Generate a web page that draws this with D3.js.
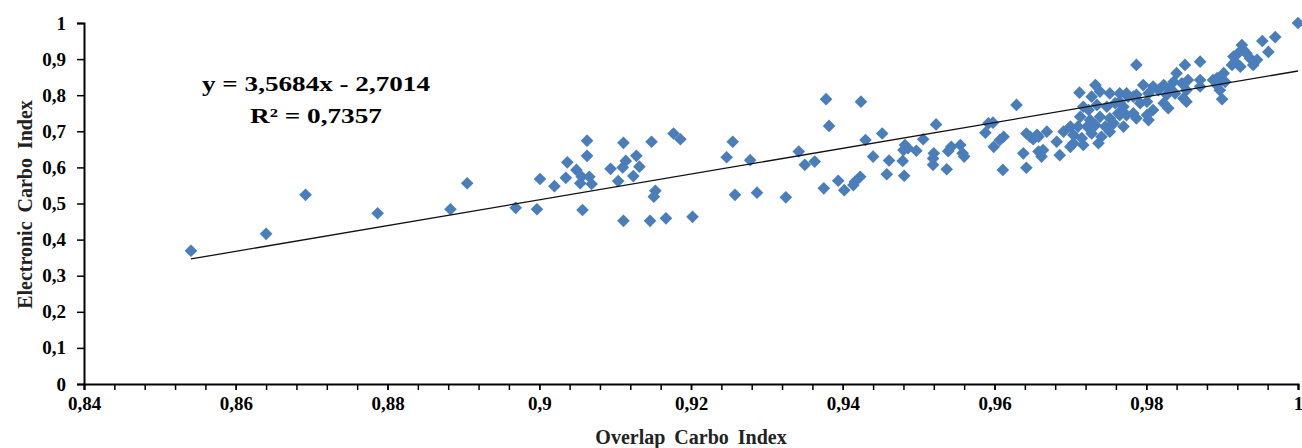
<!DOCTYPE html>
<html lang="en">
<head>
<meta charset="utf-8">
<script src="https://cdn.jsdelivr.net/npm/d3@7"></script>
<title>Overlap vs Electronic Carbo Index</title>
<style>
  body { margin: 0; background: #fff; }
  text { font-family: "Liberation Serif", "Times New Roman", serif; font-weight: bold; }
</style>
</head>
<body>
<script>
// values
var overlap = [
  0.8541, 0.8640, 0.8692, 0.8787, 0.8883, 0.8905, 0.8969,
  0.8997, 0.9001, 0.9020, 0.9035, 0.9037, 0.9049, 0.9056, 0.9054, 0.9066, 0.9069,
  0.9057, 0.9063, 0.9063, 0.9094, 0.9104, 0.9111, 0.9114, 0.9110, 0.9128, 0.9132,
  0.9124, 0.9111, 0.9148, 0.9153, 0.9151, 0.9146, 0.9167, 0.9177, 0.9186, 0.9202,
  0.9247, 0.9255, 0.9258, 0.9278, 0.9287, 0.9325, 0.9342, 0.9350, 0.9363, 0.9378,
  0.9382, 0.9375, 0.9394,
  0.9424, 0.9629, 0.9523, 0.9592, 0.9598, 0.9588, 0.9452, 0.9430, 0.9506, 0.9612,
  0.9607, 0.9642, 0.9647, 0.9651, 0.9658, 0.9482, 0.9486, 0.9480, 0.9497, 0.9599,
  0.9543, 0.9555, 0.9539, 0.9558, 0.9560, 0.9520, 0.9519, 0.9519, 0.9440, 0.9461,
  0.9479, 0.9638, 0.9658, 0.9537, 0.9611, 0.9642, 0.9458, 0.9481, 0.9423, 0.9416,
  0.9414, 0.9402,
  0.9712, 0.9733, 0.9739, 0.9728, 0.9752, 0.9765, 0.9776, 0.9717, 0.9724, 0.9735,
  0.9748, 0.9759, 0.9770, 0.9713, 0.9726, 0.9739, 0.9752, 0.9763, 0.9774, 0.9700,
  0.9710, 0.9722, 0.9733, 0.9746, 0.9757, 0.9691, 0.9704, 0.9715, 0.9728, 0.9741,
  0.9752, 0.9704, 0.9717, 0.9737, 0.9669, 0.9656, 0.9682, 0.9664, 0.9686, 0.9770,
  0.9787, 0.9851, 0.9871, 0.9840, 0.9836, 0.9847, 0.9855, 0.9871, 0.9893, 0.9796,
  0.9809, 0.9823, 0.9831, 0.9774, 0.9787, 0.9803, 0.9816, 0.9827, 0.9838, 0.9853,
  0.9871, 0.9893, 0.9765, 0.9792, 0.9801, 0.9823, 0.9829, 0.9849, 0.9853, 0.9787,
  0.9801, 0.9809, 0.9765,
  1.0000, 0.9970, 0.9953, 0.9961, 0.9926, 0.9928, 0.9921, 0.9915, 0.9932, 0.9917,
  0.9913, 0.9924, 0.9937, 0.9946, 0.9941, 0.9902, 0.9895, 0.9888, 0.9904, 0.9897,
  0.9900, 0.9700, 0.9662, 0.9783, 0.9783, 0.9803
];
var electronic = [
  0.369, 0.416, 0.524, 0.473, 0.484, 0.556, 0.488,
  0.484, 0.568, 0.548, 0.571, 0.614, 0.593, 0.574, 0.556, 0.574, 0.554,
  0.482, 0.674, 0.632, 0.596, 0.562, 0.668, 0.618, 0.600, 0.632, 0.602,
  0.576, 0.452, 0.671, 0.535, 0.519, 0.452, 0.459, 0.694, 0.678, 0.463,
  0.628, 0.671, 0.524, 0.620, 0.530, 0.517, 0.644, 0.607, 0.616, 0.789,
  0.715, 0.542, 0.563,
  0.782, 0.773, 0.719, 0.722, 0.724, 0.696, 0.694, 0.676, 0.678, 0.685,
  0.676, 0.694, 0.685, 0.678, 0.685, 0.662, 0.653, 0.648, 0.646, 0.657,
  0.657, 0.662, 0.645, 0.639, 0.630, 0.639, 0.625, 0.607, 0.630, 0.619,
  0.618, 0.639, 0.644, 0.595, 0.593, 0.599, 0.581, 0.577, 0.574, 0.560,
  0.551, 0.537,
  0.807, 0.828, 0.810, 0.796, 0.805, 0.805, 0.796, 0.768, 0.759, 0.773,
  0.768, 0.778, 0.768, 0.740, 0.731, 0.740, 0.736, 0.750, 0.745, 0.713,
  0.713, 0.713, 0.717, 0.713, 0.722, 0.699, 0.690, 0.681, 0.694, 0.685,
  0.699, 0.667, 0.662, 0.667, 0.699, 0.690, 0.671, 0.648, 0.634, 0.713,
  0.884, 0.884, 0.893, 0.861, 0.837, 0.833, 0.842, 0.842, 0.847, 0.828,
  0.824, 0.828, 0.819, 0.805, 0.801, 0.805, 0.814, 0.801, 0.805, 0.814,
  0.824, 0.828, 0.782, 0.778, 0.782, 0.778, 0.764, 0.791, 0.782, 0.736,
  0.745, 0.759, 0.745,
  1.000, 0.961, 0.950, 0.920, 0.939, 0.925, 0.916, 0.907, 0.916, 0.893,
  0.884, 0.879, 0.902, 0.898, 0.884, 0.861, 0.847, 0.842, 0.837, 0.814,
  0.789, 0.657, 0.630, 0.796, 0.750, 0.731
];

var xTicks = [0.84, 0.86, 0.88, 0.9, 0.92, 0.94, 0.96, 0.98, 1];
var yTicks = [0, 0.1, 0.2, 0.3, 0.4, 0.5, 0.6, 0.7, 0.8, 0.9, 1];

// trendline from the chart's own equation
var slope = 3.5684, intercept = -2.7014;
var eqLine = "y = 3,5684x - 2,7014";
var r2Line = "R\u00b2 = 0,7357";

var W = 1302, H = 448;
var margin = {top: 23, left: 84, bottom: 64, right: 4};

var x = d3.scaleLinear().domain([0.84, 1]).range([margin.left, W - margin.right]);
var y = d3.scaleLinear().domain([0, 1]).range([H - margin.bottom, margin.top]);

var comma = function(d){ return (+d.toFixed(2)).toString().replace('.', ','); };

var svg = d3.select("body").append("svg")
    .attr("width", W)
    .attr("height", H);

svg.append("rect").attr("width", W).attr("height", H).attr("fill", "#fff");

// minor ticks on x
var minor = d3.range(0, 41).map(function(i){ return 0.84 + i * 0.004; });
svg.append("g")
    .attr("transform", "translate(0," + y(0) + ")")
    .call(d3.axisBottom(x).tickValues(minor).tickSize(6).tickFormat(""))
    .call(function(g){ g.select(".domain").remove(); })
    .selectAll("line").attr("stroke", "#000").attr("stroke-width", 1.5);

var xAxis = svg.append("g")
    .attr("transform", "translate(0," + y(0) + ")")
    .call(d3.axisBottom(x).tickValues(xTicks).tickSize(6).tickPadding(7).tickFormat(comma));
xAxis.select(".domain").attr("stroke", "#000").attr("stroke-width", 2);
xAxis.selectAll("line").attr("stroke-width", 1.5);
xAxis.selectAll("text").attr("font-size", 19).attr("fill", "#000");

var yAxis = svg.append("g")
    .attr("transform", "translate(" + x(0.84) + ",0)")
    .call(d3.axisLeft(y).tickValues(yTicks).tickSize(7).tickPadding(11).tickFormat(comma));
yAxis.select(".domain").attr("stroke", "#000").attr("stroke-width", 2);
yAxis.selectAll("line").attr("stroke-width", 1.5);
yAxis.selectAll("text").attr("font-size", 19).attr("fill", "#000");

// points
var diamond = d3.symbol().type(d3.symbolSquare).size(80);
svg.append("g").selectAll("path")
    .data(overlap.map(function(v, i){ return [v, electronic[i]]; }))
    .enter().append("path")
    .attr("d", diamond)
    .attr("transform", function(d){ return "translate(" + x(d[0]) + "," + y(d[1]) + ") rotate(45)"; })
    .attr("fill", "#4a7ebb");

// linear trend
var x0 = d3.min(overlap), x1 = d3.max(overlap);
svg.append("line")
    .attr("x1", x(x0)).attr("y1", y(slope * x0 + intercept))
    .attr("x2", x(x1)).attr("y2", y(slope * x1 + intercept))
    .attr("stroke", "#111").attr("stroke-width", 1.3);

// equation
svg.append("text").attr("x", 316).attr("y", 91).attr("text-anchor", "middle")
    .attr("font-size", 22).attr("textLength", 228).attr("lengthAdjust", "spacingAndGlyphs")
    .text(eqLine);
svg.append("text").attr("x", 316).attr("y", 123).attr("text-anchor", "middle")
    .attr("font-size", 22).attr("textLength", 132).attr("lengthAdjust", "spacingAndGlyphs")
    .text(r2Line);

// axis titles
svg.append("text")
    .attr("transform", "translate(32," + ((margin.top + H - margin.bottom) / 2 + 1) + ") rotate(-90)")
    .attr("text-anchor", "middle").attr("font-size", 20).attr("fill", "#222")
    .attr("word-spacing", 4)
    .text("Electronic Carbo Index");
svg.append("text")
    .attr("x", (margin.left + W - margin.right) / 2).attr("y", 444)
    .attr("text-anchor", "middle").attr("font-size", 20).attr("fill", "#222")
    .attr("word-spacing", 4)
    .text("Overlap Carbo Index");
</script>
</body>
</html>
